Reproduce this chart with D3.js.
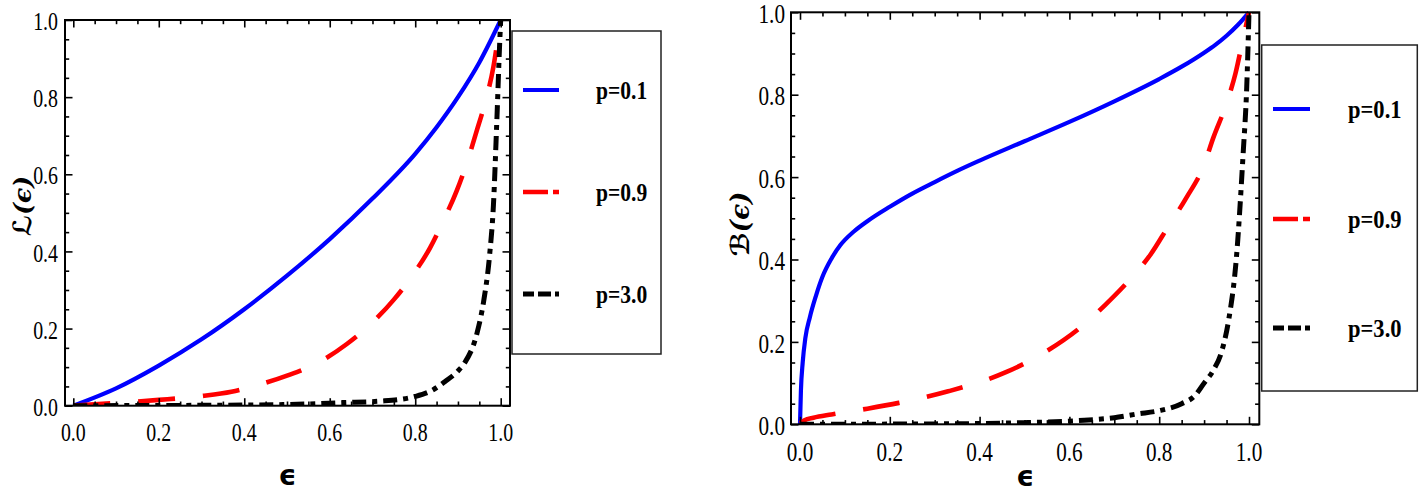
<!DOCTYPE html>
<html>
<head>
<meta charset="utf-8">
<script src="https://cdn.jsdelivr.net/npm/d3@7"></script>
<style>
  html, body { margin: 0; padding: 0; background: #fff; }
  svg { display: block; }
</style>
</head>
<body>
<svg id="chart" width="1424" height="492"></svg>
<script>
// ---------------- DATA ----------------
const seriesNames = ["p=0.1", "p=0.9", "p=3.0"];
const majorTicks = [0, 0.2, 0.4, 0.6, 0.8, 1.0];
const minorTicks = [0.05, 0.1, 0.15, 0.25, 0.3, 0.35, 0.45, 0.5, 0.55, 0.65, 0.7, 0.75, 0.85, 0.9, 0.95];
const xTickLabels = ["0.0", "0.2", "0.4", "0.6", "0.8", "1.0"];
const yTickLabels = ["0.0", "0.2", "0.4", "0.6", "0.8", "1.0"];

// Left panel: L(eps)
const L_p01_eps = [0, 0.1, 0.2, 0.3, 0.4, 0.5, 0.6, 0.7, 0.8, 0.85, 0.9, 0.95, 1];
const L_p01_val = [0, 0.045, 0.104, 0.172, 0.25, 0.337, 0.432, 0.537, 0.653, 0.722, 0.8, 0.89, 1];
const L_p09_eps = [0, 0.1, 0.2, 0.3, 0.37, 0.43, 0.5, 0.57, 0.64, 0.7, 0.75, 0.79, 0.835, 0.866, 0.897, 0.92, 0.944, 0.963, 0.983, 0.994, 1];
const L_p09_val = [0, 0.007, 0.015, 0.025, 0.036, 0.053, 0.078, 0.11, 0.16, 0.216, 0.275, 0.332, 0.41, 0.48, 0.557, 0.627, 0.713, 0.784, 0.879, 0.957, 1];
const L_p3_eps = [0, 0.3, 0.5, 0.63, 0.72, 0.8, 0.84, 0.87, 0.9, 0.915, 0.945, 0.96, 0.974, 0.983, 0.991, 0.998, 1];
const L_p3_val = [0, 0.001, 0.003, 0.008, 0.012, 0.024, 0.04, 0.063, 0.09, 0.11, 0.19, 0.27, 0.39, 0.52, 0.74, 0.95, 1];

// Right panel: B(eps)
const B_p01_eps = [0, 0.002, 0.006, 0.012, 0.022, 0.035, 0.05, 0.07, 0.09, 0.12, 0.15, 0.2, 0.25, 0.3, 0.35, 0.4, 0.5, 0.6, 0.7, 0.8, 0.85, 0.9, 0.925, 0.95, 0.975, 1];
const B_p01_val = [0, 0.08, 0.15, 0.21, 0.26, 0.31, 0.358, 0.402, 0.435, 0.468, 0.493, 0.528, 0.56, 0.588, 0.615, 0.64, 0.687, 0.734, 0.784, 0.838, 0.868, 0.902, 0.921, 0.943, 0.969, 1];
const B_p09_eps = [0, 0.01, 0.03, 0.07, 0.15, 0.22, 0.33, 0.46, 0.55, 0.63, 0.68, 0.74, 0.78, 0.82, 0.86, 0.9, 0.92, 0.95, 0.97, 0.987, 1];
const B_p09_val = [0.003, 0.01, 0.016, 0.024, 0.038, 0.052, 0.08, 0.127, 0.178, 0.24, 0.29, 0.358, 0.411, 0.48, 0.549, 0.63, 0.694, 0.779, 0.852, 0.937, 1];
const B_p3_eps = [0, 0.3, 0.5, 0.62, 0.7, 0.75, 0.8, 0.85, 0.88, 0.9, 0.92, 0.94, 0.955, 0.972, 0.987, 0.995, 1];
const B_p3_val = [0, 0.001, 0.004, 0.009, 0.016, 0.025, 0.033, 0.05, 0.07, 0.1, 0.13, 0.18, 0.255, 0.405, 0.658, 0.82, 1];

// ---------------- STYLE / LAYOUT ----------------
const styles = [
  { color: "#0000ff", width: 4.2, dash: null, legendDash: null },
  { color: "#ff0000", width: 4.6, dash: "37 28", legendDash: "25 5" },
  { color: "#000000", width: 5, dash: "14 6 5 6", legendDash: "11 4 13 4 6" }
];

const panels = [
  {
    title: "\u2112(\u03F5)",
    series: [[L_p01_eps, L_p01_val], [L_p09_eps, L_p09_val], [L_p3_eps, L_p3_val]],
    frame: { l: 65, r: 510, t: 20, b: 405.7 },
    xr: [73.3, 500.7],
    fs: 25.5, sx: 0.78, xlabBase: 441, ylabGap: 7,
    ytitle: { x: 31, y: 206, fs: 25 },
    xtitle: { y: 485, fs: 28 },
    legend: { l: 512, r: 661, t: 31, b: 354, rows: [90, 192, 294], lineX: [523, 559], textX: 596, fs: 24.5, sx: 0.88 }
  },
  {
    title: "\u212C(\u03F5)",
    series: [[B_p01_eps, B_p01_val], [B_p09_eps, B_p09_val], [B_p3_eps, B_p3_val]],
    frame: { l: 791, r: 1259.3, t: 12.3, b: 424.3 },
    xr: [800, 1249],
    fs: 26.5, sx: 0.8, xlabBase: 461, ylabGap: 6,
    ytitle: { x: 749, y: 224, fs: 26 },
    xtitle: { y: 486, fs: 28 },
    legend: { l: 1261.7, r: 1417.3, t: 45, b: 391, rows: [109, 219, 328], lineX: [1273, 1310], textX: 1348, fs: 24.5, sx: 0.92 }
  }
];

const svg = d3.select("#chart");
const serif = "'Liberation Serif', 'Times New Roman', serif";

panels.forEach(P => {
  const g = svg.append("g");
  const x = d3.scaleLinear().domain([0, 1]).range(P.xr);
  const y = d3.scaleLinear().domain([0, 1]).range([P.frame.b, P.frame.t]);

  const clipId = "clip" + Math.round(P.frame.l);
  svg.append("clipPath").attr("id", clipId).append("rect")
    .attr("x", P.frame.l).attr("y", P.frame.t - 3)
    .attr("width", P.frame.r - P.frame.l).attr("height", P.frame.b - P.frame.t + 3);

  const line = d3.line().x(d => x(d[0])).y(d => y(d[1])).curve(d3.curveMonotoneX);
  P.series.forEach((s, i) => {
    const pts = s[0].map((e, k) => [e, s[1][k]]);
    g.append("path")
      .attr("clip-path", `url(#${clipId})`)
      .attr("d", line(pts))
      .attr("fill", "none")
      .attr("stroke", styles[i].color)
      .attr("stroke-width", styles[i].width)
      .attr("stroke-dasharray", styles[i].dash);
  });

  const addAxis = (axisFn, scale, vals, size, transform) => {
    const a = g.append("g").attr("transform", transform)
      .call(axisFn(scale).tickValues(vals).tickSize(-size).tickFormat(""));
    a.select(".domain").remove();
    a.selectAll("line").attr("stroke", "#000").attr("stroke-width", 1.6);
  };
  [[majorTicks, 7.5], [minorTicks, 4.2]].forEach(([vals, sz]) => {
    addAxis(d3.axisBottom, x, vals, sz, `translate(0,${P.frame.b})`);
    addAxis(d3.axisTop, x, vals, sz, `translate(0,${P.frame.t})`);
    addAxis(d3.axisLeft, y, vals, sz, `translate(${P.frame.l},0)`);
    addAxis(d3.axisRight, y, vals, sz, `translate(${P.frame.r},0)`);
  });

  g.append("rect")
    .attr("x", P.frame.l).attr("y", P.frame.t)
    .attr("width", P.frame.r - P.frame.l).attr("height", P.frame.b - P.frame.t)
    .attr("fill", "none").attr("stroke", "#000").attr("stroke-width", 2);

  g.selectAll("text.xl").data(majorTicks).join("text")
    .attr("class", "xl")
    .attr("transform", d => `translate(${x(d)},${P.xlabBase}) scale(${P.sx},1)`)
    .attr("text-anchor", "middle")
    .attr("font-family", serif).attr("font-size", P.fs)
    .text((d, i) => xTickLabels[i]);
  g.selectAll("text.yl").data(majorTicks).join("text")
    .attr("class", "yl")
    .attr("transform", d => `translate(${P.frame.l - P.ylabGap},${y(d)}) scale(${P.sx},1)`)
    .attr("text-anchor", "end")
    .attr("dy", "0.4em")
    .attr("font-family", serif).attr("font-size", P.fs)
    .text((d, i) => yTickLabels[i]);

  g.append("text")
    .attr("x", (P.frame.l + P.frame.r) / 2).attr("y", P.xtitle.y)
    .attr("text-anchor", "middle")
    .attr("font-family", "'DejaVu Sans', sans-serif").attr("font-weight", "bold")
    .attr("font-size", P.xtitle.fs)
    .text("\u03F5");
  g.append("text")
    .attr("transform", `translate(${P.ytitle.x},${P.ytitle.y}) rotate(-90)`)
    .attr("text-anchor", "middle")
    .attr("font-family", "'DejaVu Serif', 'DejaVu Sans', serif").attr("font-weight", "bold")
    .attr("font-style", "italic")
    .attr("font-size", P.ytitle.fs)
    .text(P.title);

  const L = P.legend;
  g.append("rect")
    .attr("x", L.l).attr("y", L.t).attr("width", L.r - L.l).attr("height", L.b - L.t)
    .attr("fill", "#fff").attr("stroke", "#222").attr("stroke-width", 1.5);
  seriesNames.forEach((name, i) => {
    g.append("line")
      .attr("x1", L.lineX[0]).attr("x2", L.lineX[1])
      .attr("y1", L.rows[i]).attr("y2", L.rows[i])
      .attr("stroke", styles[i].color).attr("stroke-width", styles[i].width)
      .attr("stroke-dasharray", styles[i].legendDash);
    g.append("text")
      .attr("transform", `translate(${L.textX},${L.rows[i] + 9}) scale(${L.sx},1)`)
      .attr("font-family", serif).attr("font-weight", "bold")
      .attr("font-size", L.fs)
      .text(name);
  });
});
</script>
</body>
</html>
